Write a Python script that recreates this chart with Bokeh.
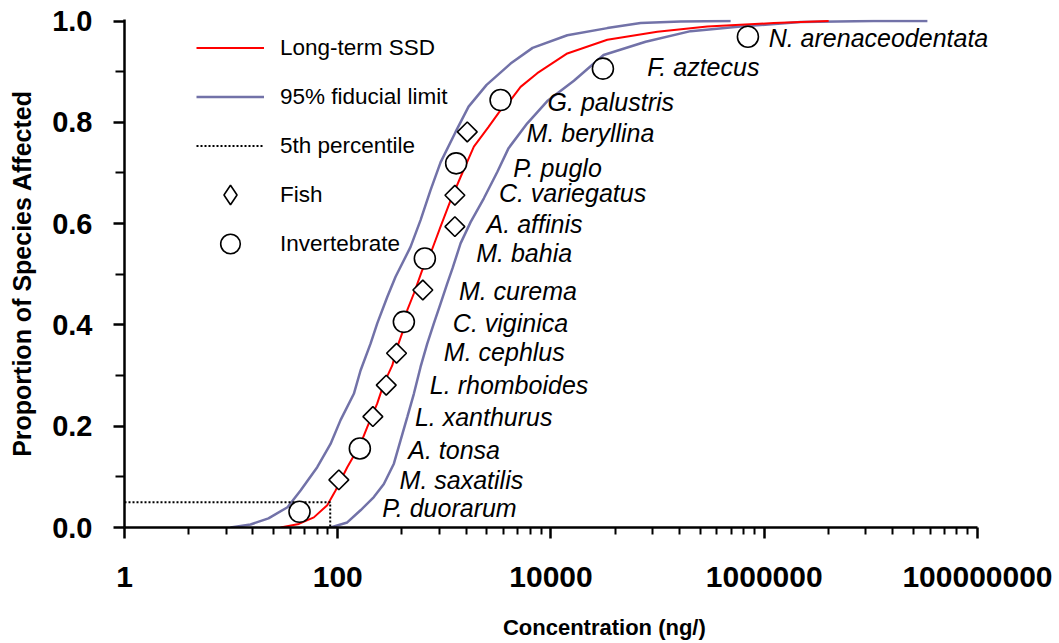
import math
from bokeh.plotting import figure
from bokeh.models import (Range1d, FixedTicker, PrintfTickFormatter, CustomJSTickFormatter,
                          Legend, LegendItem, ColumnDataSource, Label)
from bokeh.embed import file_html
from bokeh.resources import INLINE

# ---------------- data ----------------
species = ["P. duorarum", "M. saxatilis", "A. tonsa", "L. xanthurus", "L. rhomboides",
           "M. cephlus", "C. viginica", "M. curema", "M. bahia", "A. affinis",
           "C. variegatus", "P. puglo", "M. beryllina", "G. palustris", "F. aztecus",
           "N. arenaceodentata"]
group = ["Invertebrate", "Fish", "Invertebrate", "Fish", "Fish", "Fish", "Invertebrate",
         "Fish", "Invertebrate", "Fish", "Fish", "Invertebrate", "Fish", "Invertebrate",
         "Invertebrate", "Invertebrate"]
conc = [43.8, 102.4, 161.2, 213.5, 285, 356, 417, 628, 656, 1255, 1255, 1290, 1640,
        3367, 30690, 703000]
prop = [0.031, 0.094, 0.156, 0.219, 0.281, 0.344, 0.406, 0.469, 0.531, 0.594, 0.656,
        0.719, 0.781, 0.844, 0.906, 0.969]

# species label anchors (left edge, vertical middle)
label_x = [262, 380, 458, 529, 731, 989, 1201, 1368, 1990, 2489, 3246, 4429, 5904,
           9290, 80060, 1100000]
label_y = [0.038, 0.093, 0.154, 0.218, 0.281, 0.346, 0.403, 0.467, 0.541, 0.600, 0.660,
           0.710, 0.778, 0.841, 0.910, 0.966]

# long-term SSD curve
ssd_conc = [29.1, 43.2, 59.7, 79.7, 95.4, 122.8, 163.6, 189.1, 234.7, 270.7, 324.6, 361.5,
            417, 448.7, 517.5, 620, 742, 921, 1144, 1419, 1891, 2598, 3367, 4178, 5185,
            7437, 14220, 33750, 99350, 292600, 1225000, 4020000]
ssd_prop = [0.0, 0.007, 0.020, 0.044, 0.073, 0.119, 0.165, 0.198, 0.245, 0.284, 0.320, 0.356,
            0.393, 0.429, 0.462, 0.508, 0.541, 0.594, 0.646, 0.692, 0.752, 0.791, 0.824,
            0.844, 0.870, 0.897, 0.936, 0.963, 0.979, 0.989, 0.996, 1.0]

# 95% fiducial limits
upper_conc = [9.87, 15.2, 22.4, 33.8, 44.8, 64.2, 85.6, 106.2, 141.6, 163.6, 203.1, 234.7,
              291.3, 348.5, 481.8, 598, 742, 921, 1274, 1687, 2489, 4178, 6720, 14220,
              33750, 69270, 164400, 484000]
upper_prop = [0.0, 0.006, 0.018, 0.040, 0.073, 0.119, 0.165, 0.212, 0.264, 0.310, 0.363,
              0.403, 0.455, 0.495, 0.554, 0.607, 0.666, 0.721, 0.781, 0.831, 0.874, 0.916,
              0.947, 0.972, 0.986, 0.996, 0.999, 1.0]
lower_conc = [85.6, 122.8, 163.6, 218.1, 270.7, 336, 388.2, 448.7, 517.5, 598, 691, 797,
              921, 1065, 1194, 1419, 1762, 2347, 3135, 4002, 5995, 9233, 16400, 31140,
              77200, 204000, 600500, 2195000, 10620000, 33900000]
lower_prop = [0.0, 0.010, 0.034, 0.060, 0.086, 0.126, 0.172, 0.218, 0.264, 0.317, 0.363,
              0.403, 0.442, 0.482, 0.512, 0.561, 0.603, 0.650, 0.702, 0.749, 0.798, 0.842,
              0.882, 0.933, 0.959, 0.980, 0.989, 0.998, 1.0, 1.0]

# 5th percentile
hc5 = 85.0
p5 = 0.05

# axes
x_min, x_max = 1, 1e8
x_view_max = 1.383e8          # a little room right of the axis end for the last label
x_major = [1, 100, 10000, 1000000, 100000000]
y_major = [0.0, 0.2, 0.4, 0.6, 0.8, 1.0]
y_minor = [0.1, 0.3, 0.5, 0.7, 0.9]
x_minor = [k * k * 100 ** n for n in range(4) for k in range(2, 10)]
x_title = "Concentration (ng/)"
y_title = "Proportion of Species Affected"

# ---------------- figure ----------------
FONT = "Liberation Sans"
BLUE = "#7272A8"

p = figure(width=1059, height=643, x_axis_type="log",
           x_range=Range1d(x_min, x_view_max), y_range=Range1d(0, 1.003),
           output_backend="svg", toolbar_location=None,
           min_border_left=124, min_border_right=67, min_border_top=19, min_border_bottom=116)
p.grid.visible = False
p.outline_line_color = None
p.background_fill_color = "white"
p.border_fill_color = "white"

r_upper = p.line(upper_conc, upper_prop, line_color=BLUE, line_width=2.5)
p.line(lower_conc, lower_prop, line_color=BLUE, line_width=2.5)
r_ssd = p.line(ssd_conc, ssd_prop, line_color="red", line_width=2)
r_p5 = p.line([x_min, hc5, hc5], [p5, p5, 0], line_color="black", line_width=2,
              line_dash="2 2")

fish = ColumnDataSource(dict(
    x=[c for c, g in zip(conc, group) if g == "Fish"],
    y=[v for v, g in zip(prop, group) if g == "Fish"]))
inv = ColumnDataSource(dict(
    x=[c for c, g in zip(conc, group) if g == "Invertebrate"],
    y=[v for v, g in zip(prop, group) if g == "Invertebrate"]))

# diamond swatch for the legend (sits hidden beneath the fish markers)
r_fish_leg = p.scatter("x", "y", source=fish, marker="diamond", size=11,
                       fill_color="white", line_color="black", line_width=1.6)
p.scatter("x", "y", source=fish, marker="square", size=14, angle=math.pi / 4,
          fill_color="white", line_color="black", line_width=1.6)
r_inv = p.scatter("x", "y", source=inv, marker="circle", size=21,
                  fill_color="white", line_color="black", line_width=1.6)

for s, lx, ly in zip(species, label_x, label_y):
    p.add_layout(Label(x=lx, y=ly, text=s, text_font=FONT, text_font_style="italic",
                       text_font_size="25px", text_baseline="middle", text_align="left",
                       text_color="black"))

legend = Legend(items=[
    LegendItem(label="Long-term SSD", renderers=[r_ssd]),
    LegendItem(label="95% fiducial limit", renderers=[r_upper]),
    LegendItem(label="5th percentile", renderers=[r_p5]),
    LegendItem(label="Fish", renderers=[r_fish_leg]),
    LegendItem(label="Invertebrate", renderers=[r_inv]),
], location=(72, 259))
legend.glyph_width = 68
legend.glyph_height = 49
legend.spacing = 0
legend.padding = 0
legend.margin = 0
legend.label_standoff = 16
legend.label_text_font = FONT
legend.label_text_font_size = "22.5px"
legend.label_text_color = "black"
legend.border_line_color = None
legend.background_fill_alpha = 0
p.add_layout(legend)

# x axis
xa = p.xaxis[0]
xa.ticker = FixedTicker(ticks=x_major, minor_ticks=x_minor)
xa.formatter = CustomJSTickFormatter(code="return tick.toFixed(0);")
xa.bounds = (x_min, x_max)
# the title in the reference sits right of the axis centre: pad with no-break spaces
xa.axis_label = "\u00a0" * 15 + x_title
# y axis
ya = p.yaxis[0]
ya.ticker = FixedTicker(ticks=y_major, minor_ticks=y_minor)
ya.formatter = PrintfTickFormatter(format="%.1f")
ya.axis_label = y_title

for ax in (xa, ya):
    ax.axis_line_color = "black"
    ax.axis_line_width = 2.5
    ax.major_tick_line_color = "black"
    ax.major_tick_line_width = 2.5
    ax.minor_tick_line_color = "black"
    ax.minor_tick_line_width = 2
    ax.major_tick_in = 0
    ax.minor_tick_in = 0
    ax.major_tick_out = 11
    ax.major_label_text_font = FONT
    ax.major_label_text_font_style = "bold"
    ax.major_label_text_color = "black"
    ax.axis_label_text_font = FONT
    ax.axis_label_text_font_style = "bold"
    ax.axis_label_text_color = "black"

xa.minor_tick_out = 7
xa.major_label_text_font_size = "30px"
xa.major_label_standoff = 28
xa.axis_label_text_font_size = "22px"
xa.axis_label_standoff = 25

ya.minor_tick_out = 9
ya.major_label_text_font_size = "29px"
ya.major_label_standoff = 21
ya.axis_label_text_font_size = "25px"
ya.axis_label_standoff = 13

open("out.html", "w").write(file_html(p, INLINE))
